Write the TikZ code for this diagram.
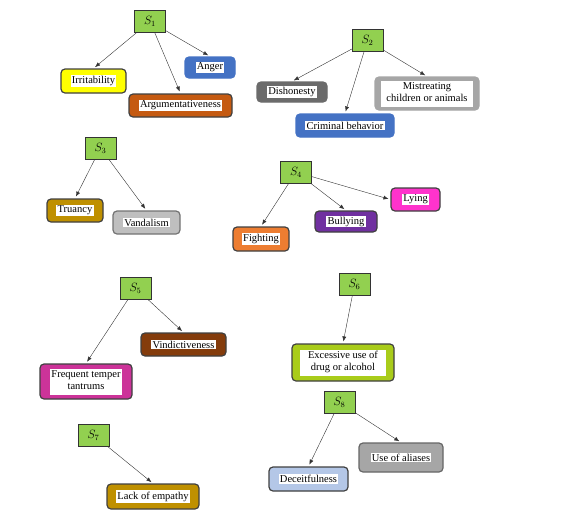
\documentclass[tikz,border=0pt]{standalone}
\usepackage{fontspec}
\setmainfont{Liberation Serif}
\usepackage{xcolor}
\usepackage{tikz}
\usetikzlibrary{arrows.meta}
\usetikzlibrary{positioning}
\definecolor{symgreen}{HTML}{92D050}
\definecolor{cyellow}{HTML}{FFFF00}
\definecolor{corange}{HTML}{C55A11}
\definecolor{cblue}{HTML}{4472C4}
\definecolor{cdgray}{HTML}{6B6B6B}
\definecolor{cgray}{HTML}{A6A6A6}
\definecolor{clgray}{HTML}{BFBFBF}
\definecolor{cgold}{HTML}{BF9000}
\definecolor{cbright}{HTML}{ED7D31}
\definecolor{cpurple}{HTML}{7030A0}
\definecolor{cmagenta}{HTML}{FF33CC}
\definecolor{cbrown}{HTML}{843C0C}
\definecolor{cpink}{HTML}{CC3399}
\definecolor{clime}{HTML}{A9CC1A}
\definecolor{cpale}{HTML}{B4C7E7}
\tikzstyle{sym}=[draw=black!80,fill=symgreen,minimum width=31pt,minimum height=22pt,inner sep=0pt,font=\fontsize{12}{14}\selectfont]
\tikzstyle{trait}=[draw=black!75,line width=1.2pt,rounded corners=4pt,inner sep=0pt,font=\fontsize{10.5}{12}\selectfont]
\tikzstyle{link}=[-{Latex[length=5pt,width=4pt]},black!80,shorten >=2pt]
\newcommand{\tbox}[1]{{\setlength{\fboxsep}{1.2pt}\colorbox{white}{#1}}}

\begin{document}
\begin{tikzpicture}[x=1pt,y=-1pt]
\useasboundingbox (0,0) rectangle (566,520);
% S1
\node [sym] (s1) at (150,21.5) {$S_1$};
\node [trait,fill=cyellow,minimum width=65pt,minimum height=24pt] (irr) at (93.5,81) {\tbox{Irritability}};
\node [trait,fill=corange,minimum width=103pt,minimum height=23pt] (arg) at (180.5,105.5) {\tbox{Argumentativeness}};
\node [trait,fill=cblue,draw=cblue,minimum width=50pt,minimum height=21pt] (ang) at (210,67.5) {\tbox{Anger}};
% S2
\node [sym] (s2) at (367.5,40.5) {$S_2$};
\node [trait,fill=cdgray,draw=cdgray,minimum width=70pt,minimum height=20pt] (dis) at (292,92) {\tbox{Dishonesty}};
\node [trait,fill=cblue,draw=cblue,minimum width=98pt,minimum height=23pt] (cri) at (345,125.5) {\tbox{Criminal behavior}};
\node [trait,fill=cgray,draw=cgray,minimum width=104pt,minimum height=33pt] (mis) at (427,93.5)
  {\setlength{\fboxsep}{1pt}\colorbox{white}{\begin{tabular}{@{\hspace{4pt}}c@{\hspace{4pt}}}Mistreating\\children or animals\end{tabular}}};
% S3
\node [sym] (s3) at (100.5,148) {$S_3$};
\node [trait,fill=cgold,minimum width=56pt,minimum height=23pt] (tru) at (75,210.5) {\tbox{Truancy}};
\node [trait,fill=clgray,draw=black!55,minimum width=67pt,minimum height=23pt] (van) at (146.5,222.5) {\tbox{Vandalism}};
% S4
\node [sym] (s4) at (296,172) {$S_4$};
\node [trait,fill=cbright,minimum width=56pt,minimum height=24pt] (fig) at (261,239) {\tbox{Fighting}};
\node [trait,fill=cpurple,minimum width=62pt,minimum height=21pt] (bul) at (346,221.5) {\tbox{Bullying}};
\node [trait,fill=cmagenta,minimum width=49pt,minimum height=23pt] (lyi) at (415.5,199.5) {\tbox{Lying}};
% S5
\node [sym] (s5) at (135.5,288) {$S_5$};
\node [trait,fill=cbrown,minimum width=85pt,minimum height=23pt] (vin) at (183.5,344.5) {\tbox{Vindictiveness}};
\node [trait,fill=cpink,minimum width=92pt,minimum height=35pt] (fre) at (86,381.5)
  {\setlength{\fboxsep}{1pt}\colorbox{white}{\begin{tabular}{@{}c@{}}Frequent temper\\tantrums\end{tabular}}};
% S6
\node [sym] (s6) at (354.5,284.5) {$S_6$};
\node [trait,fill=clime,minimum width=102pt,minimum height=37pt] (exc) at (343,362.5)
  {\setlength{\fboxsep}{1pt}\colorbox{white}{\begin{tabular}{@{\hspace{7pt}}c@{\hspace{7pt}}}Excessive use of\\drug or alcohol\end{tabular}}};
% S7
\node [sym] (s7) at (93.5,435) {$S_7$};
\node [trait,fill=cgold,minimum width=92pt,minimum height=25pt] (lac) at (153,496.5) {\tbox{Lack of empathy}};
% S8
\node [sym] (s8) at (339.5,402.5) {$S_8$};
\node [trait,fill=cgray,draw=black!60,minimum width=84pt,minimum height=29pt] (ali) at (401,457.5) {\tbox{Use of aliases}};
\node [trait,fill=cpale,minimum width=79pt,minimum height=24pt] (dec) at (308.5,479) {\tbox{Deceitfulness}};

\foreach \from/\to in {s1/irr,s1/arg,s1/ang,s2/dis,s2/cri,s2/mis,s3/tru,s3/van,
  s4/fig,s4/bul,s5/fre,s5/vin,s6/exc,s7/lac,s8/dec,s8/ali}
  \draw [link] (\from) -- (\to.north);
\draw [link] (s4) -- (lyi.west);
\end{tikzpicture}
\end{document}
